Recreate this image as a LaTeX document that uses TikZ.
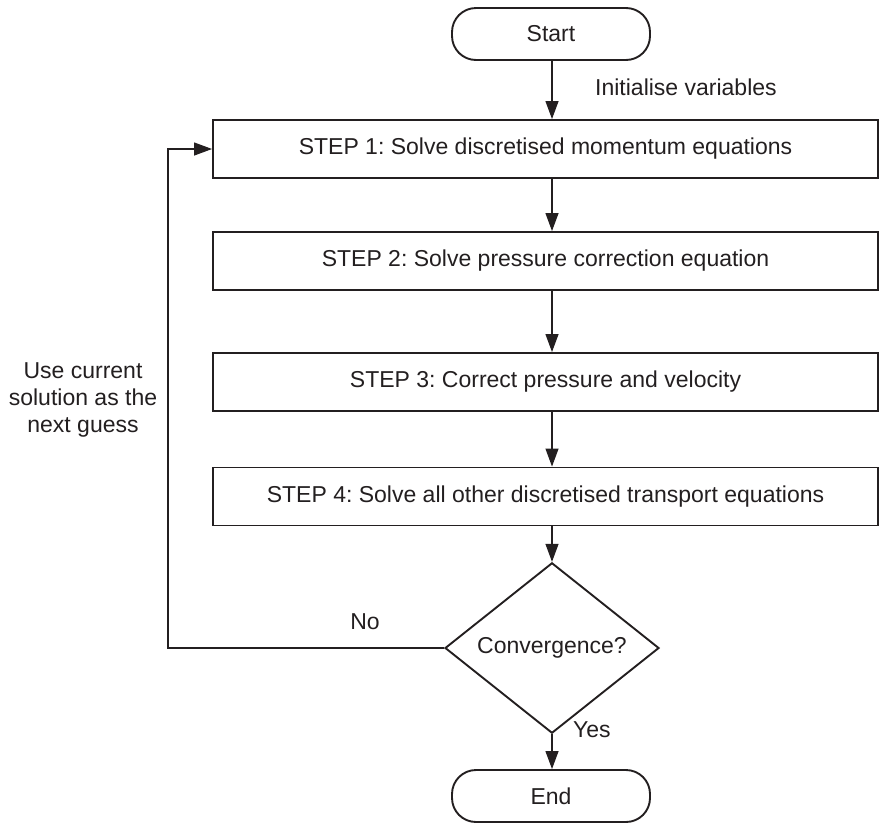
\documentclass[tikz,border=0pt]{standalone}
\usepackage{fontspec}
\setmainfont{Liberation Sans}
\usetikzlibrary{shapes.geometric,arrows.meta}
\definecolor{ink}{HTML}{231F20}
\frenchspacing
\begin{document}
\begin{tikzpicture}[x=1pt,y=-1pt,
  every node/.style={text=ink,font=\fontsize{23}{27}\selectfont},
  stepbox/.style={draw=ink,line width=1.9pt,minimum width=665pt,minimum height=58pt,inner sep=0pt},
  term/.style={draw=ink,line width=1.9pt,rounded corners=24pt,minimum width=198pt,minimum height=52pt,inner sep=0pt},
  decide/.style={draw=ink,line width=1.9pt,diamond,minimum width=214pt,minimum height=116pt,inner sep=0pt},
  conn/.style={draw=ink,line width=1.2pt,-{Triangle[length=18pt,width=13pt]}},
  lbl/.style={inner sep=0pt}]
\useasboundingbox (0,0) rectangle (880,828);
\node[term] (start) at (551,34) {Start};
\node[stepbox] (s1) at (545.5,149) {STEP 1: Solve discretised momentum equations};
\node[stepbox] (s2) at (545.5,261) {STEP 2: Solve pressure correction equation};
\node[stepbox] (s3) at (545.5,382) {STEP 3: Correct pressure and velocity};
\node[stepbox] (s4) at (545.5,496.5) {STEP 4: Solve all other discretised transport equations};
\node[decide] (conv) at (552,648) {Convergence?};
\node[term] (end) at (551,796) {End};
\coordinate (axis) at (552,0);
\coordinate (loopx) at (168,0);
\draw[conn] (axis |- start.south) -- (axis |- s1.north);
\draw[conn] (axis |- s1.south) -- (axis |- s2.north);
\draw[conn] (axis |- s2.south) -- (axis |- s3.north);
\draw[conn] (axis |- s3.south) -- (axis |- s4.north);
\draw[conn] (axis |- s4.south) -- (conv.north);
\draw[conn] (conv.south) -- (axis |- end.north);
\draw[conn] (conv.west) -- (loopx |- conv.west) -- (loopx |- s1.west) -- (s1.west);
\node[lbl,anchor=west] (init) at (595,87) {Initialise variables};
\node[lbl] (no) at (365,622) {No};
\node[lbl,anchor=west] (yes) at (573,730) {Yes};
\node[lbl,align=center] (guess) at (83,400) {Use current\\solution as the\\next guess};
\end{tikzpicture}
\end{document}
